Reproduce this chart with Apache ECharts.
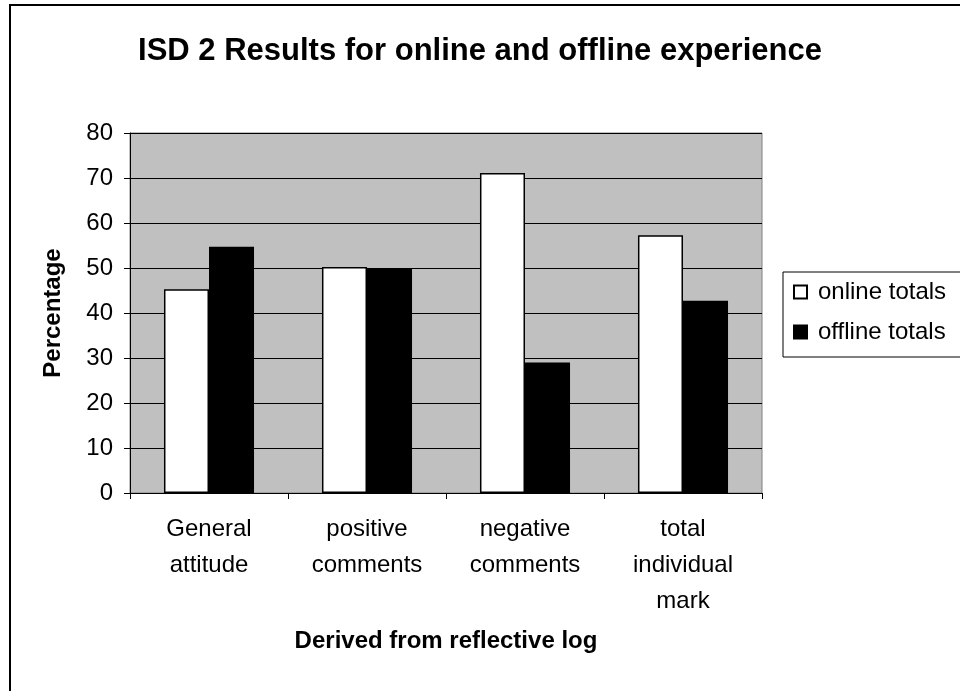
<!DOCTYPE html>
<html>
<head>
<meta charset="utf-8">
<script src="https://cdn.jsdelivr.net/npm/echarts@6/dist/echarts.min.js"></script>
<style>
  html, body { margin: 0; padding: 0; background: #fff; }
  #chart { width: 960px; height: 691px; }
</style>
</head>
<body>
<div id="chart"></div>
<script>
var categories = ['General\nattitude', 'positive\ncomments', 'negative\ncomments', 'total\nindividual\nmark'];
var onlineTotals = [45.3, 50.2, 71.1, 57.3];
var offlineTotals = [54.7, 49.8, 29.0, 42.7];
var seriesNames = ['online totals', 'offline totals'];

var font = '"Liberation Sans", Arial, sans-serif';
var chart = echarts.init(document.getElementById('chart'));

var option = {
  backgroundColor: '#fff',
  animation: false,
  title: {
    text: 'ISD 2 Results for online and offline experience',
    left: 'center',
    top: 31,
    textStyle: { fontFamily: font, fontSize: 31, fontWeight: 'bold', color: '#000' }
  },
  graphic: [{
    type: 'rect',
    shape: { x: 10, y: 5, width: 1000, height: 1000 },
    style: { fill: 'none', stroke: '#000', lineWidth: 2 },
    z: -1
  }],
  legend: {
    orient: 'vertical',
    left: 783,
    top: 272,
    data: seriesNames,
    icon: 'rect',
    itemWidth: 13,
    itemHeight: 13,
    itemGap: 16,
    padding: [8, 40, 13, 10],
    borderColor: '#000',
    borderWidth: 1,
    textStyle: { fontFamily: font, fontSize: 24, color: '#000', padding: [0, 0, 0, 6] }
  },
  grid: {
    left: 130, top: 133, width: 632, height: 360,
    show: true,
    backgroundColor: '#c0c0c0',
    borderColor: '#808080',
    borderWidth: 1
  },
  xAxis: {
    type: 'category',
    data: categories,
    name: 'Derived from reflective log',
    nameLocation: 'middle',
    nameGap: 136,
    nameTextStyle: { fontFamily: font, fontSize: 24, fontWeight: 'bold', color: '#000' },
    axisLine: { lineStyle: { color: '#000', width: 1 } },
    axisTick: { show: true, length: 6, lineStyle: { color: '#000' } },
    axisLabel: {
      interval: 0, margin: 18, lineHeight: 36,
      fontFamily: font, fontSize: 24, color: '#000'
    }
  },
  yAxis: {
    type: 'value',
    min: 0, max: 80, interval: 10,
    name: 'Percentage',
    nameLocation: 'middle',
    nameGap: 65,
    nameTextStyle: { fontFamily: font, fontSize: 24, fontWeight: 'bold', color: '#000' },
    axisLine: { show: true, lineStyle: { color: '#000', width: 1 } },
    axisTick: { show: true, length: 6, lineStyle: { color: '#000' } },
    axisLabel: { margin: 17, fontFamily: font, fontSize: 24, color: '#000' },
    splitLine: { show: true, lineStyle: { color: '#000', width: 1 } }
  },
  series: [{
    name: seriesNames[0],
    type: 'bar',
    data: onlineTotals,
    barGap: '0%',
    barCategoryGap: '43%',
    itemStyle: { color: '#fff', borderColor: '#000', borderWidth: 1.5 }
  }, {
    name: seriesNames[1],
    type: 'bar',
    data: offlineTotals,
    barGap: '0%',
    barCategoryGap: '43%',
    itemStyle: { color: '#000', borderColor: '#000', borderWidth: 1.5 }
  }]
};

chart.setOption(option);
</script>
</body>
</html>
